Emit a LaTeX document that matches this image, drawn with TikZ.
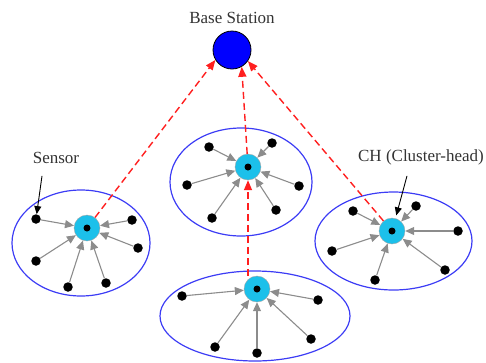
\documentclass[tikz,border=0pt]{standalone}
\usepackage{fontspec}
\setmainfont{Liberation Serif}
\usetikzlibrary{positioning,arrows.meta}
\definecolor{ringblue}{HTML}{3C3CF5}
\definecolor{headcyan}{HTML}{1CC0EA}
\definecolor{stationblue}{HTML}{0000FF}
\definecolor{feedgray}{HTML}{8C8C8C}
\definecolor{linkred}{HTML}{FF1F1F}
\tikzset{
  station/.style={circle, draw=black, thick, fill=stationblue, minimum size=38pt, inner sep=0pt},
  head/.style={circle, draw=gray!70, fill=headcyan, minimum size=26pt, inner sep=0pt,
    path picture={\fill[black] (path picture bounding box.center) circle (3.5pt);}},
  sensor/.style={circle, fill=black, minimum size=9.5pt, inner sep=0pt},
  feed/.style={draw=feedgray, line width=1.1pt, -{Triangle[length=9pt,width=8pt]}},
  link/.style={draw=linkred, line width=1.4pt, dash pattern=on 7pt off 4pt, -{Triangle[length=10pt,width=8pt]}},
  cluster/.style={draw=ringblue, line width=1.2pt},
  callout/.style={font=\fontsize{17}{20}\selectfont, text=black!80, inner sep=1pt},
  pointer/.style={draw=black, line width=0.9pt, -{Triangle[length=8pt,width=7pt]}},
}

\begin{document}
\begin{tikzpicture}[on grid]
  \useasboundingbox (0,0) rectangle (486pt,-362pt);
  % Define nodes
  \node[station] (bs) at (232pt,-50pt) {};
  \node[callout, above=32pt of bs] (bslabel) {Base Station};
  \node[head, below left=178pt and 145pt of bs] (ch1) {};
  \node[head, below right=117pt and 16pt of bs] (ch2) {};
  \node[head, below right=181pt and 160pt of bs] (ch3) {};
  \node[head, below right=239pt and 25pt of bs] (ch4) {};
  % Clusters
  \draw[cluster] ([shift={(-6pt,-15pt)}]ch1) ellipse [x radius=69pt, y radius=53pt];
  \draw[cluster] ([shift={(-7pt,-15pt)}]ch2) ellipse [x radius=71pt, y radius=54pt];
  \draw[cluster] ([shift={(1.5pt,-10pt)}]ch3) ellipse [x radius=78.5pt, y radius=49pt];
  \draw[cluster] ([shift={(-2pt,-27pt)}]ch4) ellipse [x radius=95pt, y radius=45pt];
  % Sensors and their links to the cluster heads
  \foreach \i/\x/\y in {1/-51/9, 2/45/8, 3/51/-20, 4/-51/-33, 5/-19/-59, 6/19/-55} {
    \node[sensor] (s1-\i) at ([shift={(\x pt,\y pt)}]ch1) {};
    \draw[feed] (s1-\i) -- (ch1);
  }
  \foreach \i/\x/\y in {1/-39/20, 2/24/24, 3/-61/-18, 4/51/-19, 5/-36/-51, 6/28/-43} {
    \node[sensor] (s2-\i) at ([shift={(\x pt,\y pt)}]ch2) {};
    \draw[feed] (s2-\i) -- (ch2);
  }
  \foreach \i/\x/\y in {1/-39/20, 2/24/25, 3/66/0, 4/-60/-20, 5/53/-39, 6/-17/-49} {
    \node[sensor] (s3-\i) at ([shift={(\x pt,\y pt)}]ch3) {};
    \draw[feed] (s3-\i) -- (ch3);
  }
  \foreach \i/\x/\y in {1/-75/-7, 2/61/-11, 3/-42/-58, 4/0/-64, 5/54/-50} {
    \node[sensor] (s4-\i) at ([shift={(\x pt,\y pt)}]ch4) {};
    \draw[feed] (s4-\i) -- (ch4);
  }
  % Labels
  \node[callout, above right=61pt and 20pt of s1-1] (sensorlabel) {Sensor};
  \node[callout, above right=74pt and 29pt of ch3] (chlabel) {CH (Cluster-head)};
  \draw[pointer] ([xshift=-14pt,yshift=-11pt]sensorlabel.south) -- (s1-1);
  \draw[pointer, shorten >=3pt] ([xshift=-14pt,yshift=-10pt]chlabel.south) -- (ch3);
  % Connect the cluster heads to the base station
  \draw[link] (ch1) -- (bs.-149);
  \draw[link] (ch2) -- (bs.-60);
  \draw[link] (ch3) -- (bs.-35);
  \draw[link] (ch4.north -| ch2) -- (ch2);
\end{tikzpicture}
\end{document}
